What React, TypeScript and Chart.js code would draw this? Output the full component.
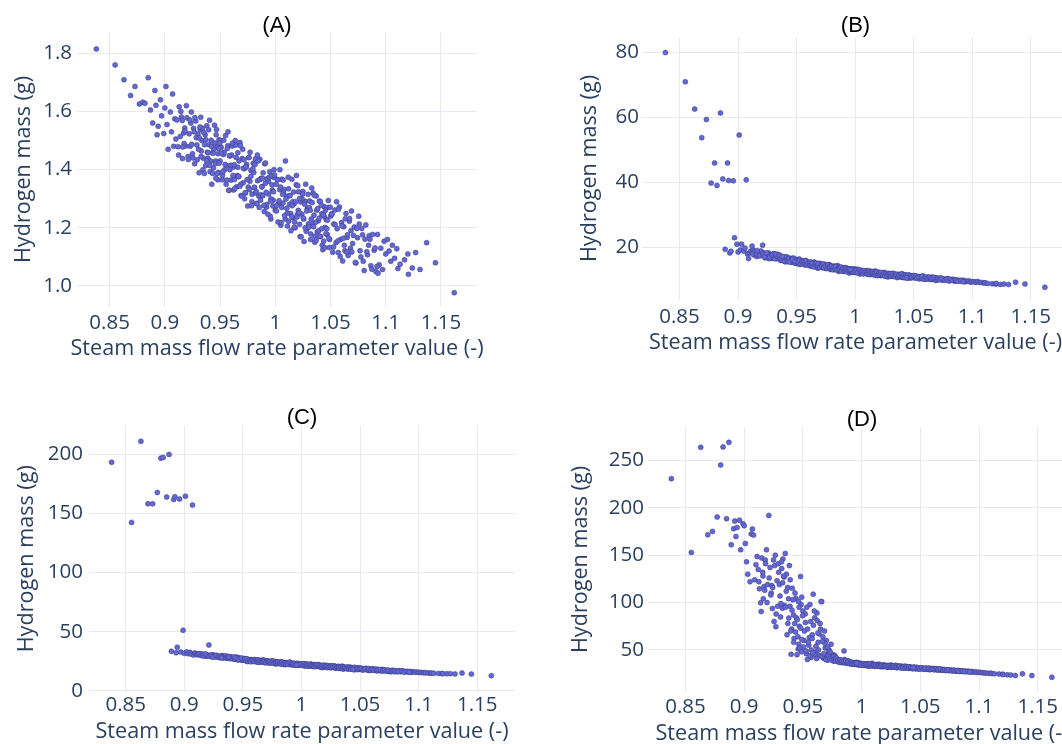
import React, { useEffect, useRef } from "react";
import { Chart, registerables } from "chart.js";

Chart.register(...registerables);

// Steam mass flow rate parameter value (-) for every sample (shared by all panels)
const steamFlow = [
  0.838, 0.855, 0.863, 0.869, 0.873, 0.877, 0.880, 0.882, 0.885, 0.887,
  0.889, 0.891, 0.892, 0.893, 0.894, 0.896, 0.897, 0.899, 0.900, 0.901,
  0.902, 0.903, 0.905, 0.906, 0.907, 0.908, 0.909, 0.910,
  0.911, 0.912, 0.913, 0.914, 0.915, 0.916, 0.917, 0.918, 0.919, 0.920,
  0.921, 0.922, 0.923, 0.924, 0.925, 0.926, 0.927, 0.928, 0.929, 0.930,
  0.931, 0.932, 0.933, 0.934, 0.935, 0.936, 0.937, 0.938, 0.939, 0.940,
  0.941, 0.942, 0.943, 0.944, 0.945, 0.946, 0.947, 0.948, 0.949, 0.950,
  0.9125, 0.9145, 0.9175, 0.9195, 0.9235, 0.9255, 0.9285, 0.9305, 0.9325, 0.9345,
  0.9365, 0.9385, 0.9405, 0.9425, 0.9445, 0.9465, 0.9485, 0.9415, 0.9335, 0.9265,
  0.951, 0.952, 0.953, 0.954, 0.955, 0.956, 0.957, 0.958, 0.959, 0.960,
  0.961, 0.962, 0.963, 0.964, 0.965, 0.966, 0.967, 0.968, 0.969, 0.970,
  0.971, 0.972, 0.973, 0.974, 0.975, 0.976, 0.977, 0.978, 0.979, 0.980,
  0.981, 0.982, 0.983, 0.984, 0.985, 0.986, 0.987, 0.988, 0.989, 0.990,
  0.991, 0.992, 0.993, 0.994, 0.995, 0.996, 0.997, 0.998, 0.999, 1.000,
  0.9505, 0.9522, 0.9538, 0.9555, 0.9572, 0.9588, 0.9605, 0.9622, 0.9638, 0.9655,
  0.9672, 0.9688, 0.9705, 0.9722, 0.9738, 0.9755, 0.9772, 0.9788, 0.9805, 0.9822,
  0.9838, 0.9855, 0.9872, 0.9888, 0.9905, 0.9922, 0.9938, 0.9955, 0.9972, 0.9988,
  1.001, 1.002, 1.003, 1.004, 1.005, 1.006, 1.007, 1.008, 1.009, 1.010,
  1.011, 1.012, 1.013, 1.014, 1.015, 1.016, 1.017, 1.018, 1.019, 1.020,
  1.021, 1.022, 1.023, 1.024, 1.025, 1.026, 1.027, 1.028, 1.029, 1.030,
  1.031, 1.032, 1.033, 1.034, 1.035, 1.036, 1.037, 1.038, 1.039, 1.040,
  1.041, 1.042, 1.043, 1.044, 1.045, 1.046, 1.047, 1.048, 1.049, 1.050,
  1.0008, 1.0025, 1.0042, 1.0058, 1.0075, 1.0092, 1.0108, 1.0125, 1.0142, 1.0158,
  1.0175, 1.0192, 1.0208, 1.0225, 1.0242, 1.0258, 1.0275, 1.0292, 1.0308, 1.0325,
  1.0342, 1.0358, 1.0375, 1.0392, 1.0408, 1.0425, 1.0442, 1.0458, 1.0475, 1.0492,
  1.051, 1.052, 1.053, 1.054, 1.055, 1.056, 1.057, 1.058, 1.059, 1.060,
  1.061, 1.062, 1.063, 1.064, 1.065, 1.066, 1.067, 1.068, 1.069, 1.070,
  1.0715, 1.073, 1.0745, 1.076, 1.0775, 1.079, 1.0805, 1.082, 1.0835, 1.085,
  1.0865, 1.088, 1.0895, 1.091, 1.0925, 1.094, 1.0955, 1.097, 1.0985, 1.100,
  1.0555, 1.0625, 1.0685, 1.0755, 1.0845,
  1.093, 1.1015, 1.103, 1.1045, 1.106, 1.108, 1.110, 1.111, 1.113, 1.117,
  1.120, 1.1205, 1.124, 1.127, 1.131, 1.137, 1.145, 1.162,
  0.9158, 0.9163, 0.9182, 0.9213, 0.9227, 0.9243, 0.9272, 0.9294, 0.9313, 0.9328,
  0.9352, 0.9358, 0.9372, 0.9392, 0.9397, 0.9408, 0.9422, 0.9433, 0.9452, 0.9458,
  0.9468, 0.9474, 0.9482, 0.9491, 0.9497, 0.9378, 0.9318, 0.9438, 0.9462, 0.9488,
  0.9513, 0.9527, 0.9533, 0.9546, 0.9561, 0.9566, 0.9579, 0.9584, 0.9597, 0.9611,
  0.9617, 0.9628, 0.9633, 0.9646, 0.9661, 0.9666, 0.9679, 0.9684, 0.9697, 0.9711,
  0.9717, 0.9728, 0.9733, 0.9746, 0.9761, 0.9766, 0.9779, 0.9784, 0.9797, 0.9811,
  0.9817, 0.9828, 0.9833, 0.9846, 0.9861, 0.9866, 0.9879, 0.9884, 0.9897, 0.9911,
  0.9917, 0.9928, 0.9933, 0.9946, 0.9961, 0.9966, 0.9979, 0.9984, 0.9993, 0.9957,
  1.0013, 1.0021, 1.0034, 1.0047, 1.0053, 1.0066, 1.0071, 1.0084, 1.0097, 1.0104,
  1.0117, 1.0121, 1.0134, 1.0147, 1.0153, 1.0166, 1.0171, 1.0184, 1.0197, 1.0204,
  1.0217, 1.0221, 1.0234, 1.0247, 1.0253, 1.0266, 1.0271, 1.0284, 1.0297, 1.0304,
  1.0317, 1.0321, 1.0334, 1.0347, 1.0353, 1.0366, 1.0371, 1.0384, 1.0397, 1.0404,
  1.0417, 1.0421, 1.0434, 1.0447, 1.0453, 1.0466, 1.0471, 1.0484, 1.0497, 1.0438,
  1.0513, 1.0527, 1.0541, 1.0566, 1.0572, 1.0588, 1.0603, 1.0617, 1.0634, 1.0648,
  1.0653, 1.0672, 1.0693, 1.0708, 1.0724, 1.0738, 1.0767, 1.0783, 1.0796, 1.0812,
  1.0828, 1.0857, 1.0874, 1.0903, 1.0921,
];

// Hydrogen mass (g), panel (A)
const h2MassA = [
  1.815, 1.760, 1.709, 1.655, 1.686, 1.626, 1.632, 1.628, 1.716, 1.605,
  1.560, 1.672, 1.621, 1.520, 1.549, 1.640, 1.585, 1.524, 1.612, 1.686,
  1.555, 1.470, 1.598, 1.530, 1.660, 1.480, 1.575, 1.505,
  1.571, 1.479, 1.616, 1.514, 1.581, 1.438, 1.526, 1.543, 1.481, 1.578,
  1.445, 1.523, 1.480, 1.598, 1.455, 1.542, 1.420, 1.567, 1.485, 1.522,
  1.389, 1.537, 1.464, 1.542, 1.439, 1.486, 1.414, 1.551, 1.439, 1.486,
  1.393, 1.501, 1.458, 1.406, 1.553, 1.430, 1.478, 1.365, 1.503, 1.430,
  1.45, 1.60, 1.49, 1.62, 1.56, 1.44, 1.51, 1.47, 1.58, 1.40,
  1.52, 1.46, 1.57, 1.35, 1.47, 1.52, 1.39, 1.43, 1.50, 1.53,
  1.477, 1.365, 1.452, 1.400, 1.517, 1.414, 1.482, 1.329, 1.447, 1.364,
  1.481, 1.409, 1.366, 1.484, 1.341, 1.408, 1.376, 1.493, 1.311, 1.438,
  1.355, 1.403, 1.320, 1.418, 1.275, 1.442, 1.360, 1.397, 1.315, 1.422,
  1.339, 1.437, 1.284, 1.362, 1.309, 1.436, 1.314, 1.341, 1.389, 1.256,
  1.353, 1.271, 1.368, 1.316, 1.393, 1.230, 1.348, 1.295, 1.373, 1.260,
  1.50, 1.38, 1.46, 1.35, 1.53, 1.40, 1.45, 1.33, 1.50, 1.38,
  1.43, 1.35, 1.47, 1.30, 1.41, 1.34, 1.46, 1.29, 1.39, 1.32,
  1.45, 1.27, 1.37, 1.31, 1.42, 1.28, 1.36, 1.24, 1.33, 1.40,
  1.258, 1.366, 1.283, 1.331, 1.209, 1.367, 1.285, 1.332, 1.230, 1.308,
  1.206, 1.334, 1.281, 1.249, 1.367, 1.235, 1.283, 1.200, 1.348, 1.246,
  1.324, 1.212, 1.289, 1.247, 1.325, 1.153, 1.291, 1.188, 1.266, 1.214,
  1.292, 1.160, 1.337, 1.215, 1.243, 1.171, 1.309, 1.186, 1.224, 1.292,
  1.170, 1.248, 1.125, 1.273, 1.201, 1.229, 1.177, 1.294, 1.132, 1.240,
  1.35, 1.22, 1.40, 1.27, 1.32, 1.43, 1.25, 1.31, 1.19, 1.29,
  1.22, 1.38, 1.26, 1.17, 1.30, 1.23, 1.35, 1.20, 1.27, 1.23,
  1.32, 1.15, 1.26, 1.19, 1.29, 1.14, 1.24, 1.18, 1.27, 1.16,
  1.248, 1.116, 1.213, 1.261, 1.149, 1.197, 1.115, 1.272, 1.160, 1.218,
  1.086, 1.204, 1.121, 1.249, 1.167, 1.105, 1.223, 1.130, 1.258, 1.146,
  1.203, 1.079, 1.166, 1.213, 1.100, 1.176, 1.053, 1.210, 1.107, 1.173,
  1.070, 1.177, 1.123, 1.050, 1.177, 1.073, 1.130, 1.057, 1.154, 1.110,
  1.29, 1.14, 1.19, 1.24, 1.14,
  1.044, 1.160, 1.120, 1.085, 1.140, 1.095, 1.128, 1.060, 1.075, 1.090,
  1.110, 1.040, 1.062, 1.115, 1.057, 1.149, 1.080, 0.977,
  1.569, 1.478, 1.533, 1.435, 1.571, 1.487, 1.579, 1.434, 1.509, 1.445,
  1.528, 1.387, 1.503, 1.458, 1.537, 1.414, 1.480, 1.387, 1.492, 1.421,
  1.538, 1.387, 1.455, 1.422, 1.491, 1.431, 1.547, 1.456, 1.370, 1.473,
  1.457, 1.393, 1.501, 1.418, 1.364, 1.473, 1.329, 1.448, 1.415, 1.491,
  1.380, 1.417, 1.335, 1.442, 1.458, 1.377, 1.343, 1.482, 1.309, 1.405,
  1.434, 1.321, 1.409, 1.366, 1.442, 1.331, 1.377, 1.276, 1.403, 1.339,
  1.418, 1.325, 1.283, 1.430, 1.366, 1.295, 1.341, 1.370, 1.277, 1.423,
  1.322, 1.369, 1.247, 1.374, 1.300, 1.379, 1.275, 1.324, 1.382, 1.291,
  1.277, 1.365, 1.293, 1.340, 1.218, 1.315, 1.364, 1.242, 1.299, 1.267,
  1.374, 1.223, 1.311, 1.238, 1.276, 1.323, 1.202, 1.290, 1.237, 1.345,
  1.252, 1.301, 1.169, 1.316, 1.234, 1.281, 1.200, 1.258, 1.315, 1.203,
  1.260, 1.179, 1.287, 1.204, 1.312, 1.219, 1.158, 1.266, 1.233, 1.171,
  1.278, 1.197, 1.245, 1.132, 1.260, 1.197, 1.226, 1.164, 1.271, 1.154,
  1.247, 1.134, 1.211, 1.155, 1.264, 1.101, 1.207, 1.164, 1.231, 1.117,
  1.176, 1.232, 1.117, 1.174, 1.081, 1.198, 1.121, 1.198, 1.085, 1.161,
  1.118, 1.161, 1.058, 1.131, 1.067,
];

// Hydrogen mass (g), panel (B)
const h2MassB = [
  80.0, 71.0, 62.6, 53.8, 59.4, 39.8, 46.0, 39.1, 61.4, 41.1,
  19.4, 46.0, 40.6, 18.3, 18.8, 40.5, 23.0, 21.0, 18.6, 54.6,
  19.2, 21.0, 18.9, 19.8, 40.8, 18.0, 16.6, 18.4,
  18.9, 20.4, 19.1, 17.6, 18.4, 17.2, 18.4, 17.9, 17.4, 18.5,
  20.7, 18.3, 16.8, 17.9, 17.1, 18.3, 17.3, 17.8, 16.6, 17.4,
  16.8, 17.7, 16.5, 17.0, 17.7, 16.2, 17.0, 16.4, 17.0, 15.6,
  17.1, 15.9, 16.5, 16.1, 16.6, 15.4, 16.2, 15.9, 15.5, 16.3,
  18.0, 18.8, 17.6, 18.9, 16.9, 18.0, 17.0, 18.1, 16.9, 17.4,
  16.0, 16.8, 16.2, 16.9, 15.9, 16.6, 15.2, 15.6, 17.9, 16.5,
  15.3, 16.2, 14.7, 15.6, 15.9, 15.2, 14.6, 16.0, 14.7, 15.3,
  14.9, 14.2, 15.2, 14.6, 15.5, 14.1, 14.7, 13.6, 15.1, 14.1,
  15.0, 13.9, 14.4, 14.7, 13.5, 14.3, 13.9, 14.7, 13.2, 14.2,
  13.5, 14.3, 13.1, 13.7, 14.4, 12.6, 13.7, 13.0, 13.8, 12.6,
  13.4, 13.8, 12.7, 13.0, 12.1, 13.3, 13.0, 12.3, 13.4, 12.5,
  15.0, 16.4, 15.1, 15.8, 14.9, 15.5, 14.5, 15.4, 14.4, 15.2,
  14.0, 14.9, 14.6, 13.7, 14.8, 13.9, 14.5, 13.4, 14.0, 13.3,
  14.1, 13.2, 13.9, 12.9, 13.6, 12.8, 13.5, 12.5, 13.2, 12.4,
  13.3, 12.4, 13.0, 11.8, 12.6, 12.8, 11.9, 12.6, 12.1, 12.9,
  11.9, 12.4, 11.6, 12.6, 12.1, 11.8, 12.7, 11.9, 11.3, 12.3,
  12.1, 11.3, 12.1, 11.5, 12.3, 11.5, 11.7, 10.9, 12.0, 11.2,
  11.7, 11.3, 12.0, 11.0, 11.6, 10.7, 11.7, 11.3, 11.0, 11.9,
  10.7, 11.4, 10.9, 11.2, 10.5, 11.5, 10.7, 11.2, 10.8, 11.3,
  12.2, 13.1, 12.3, 12.9, 12.0, 12.6, 11.8, 12.7, 12.2, 11.6,
  12.4, 11.7, 12.2, 11.5, 12.0, 11.3, 11.9, 11.2, 11.8, 11.1,
  11.5, 11.0, 11.6, 10.9, 11.3, 11.6, 10.8, 11.1, 10.6, 11.0,
  10.6, 11.2, 10.7, 11.0, 10.3, 11.0, 10.5, 11.2, 10.2, 10.7,
  10.3, 10.9, 10.4, 10.7, 10.1, 10.9, 10.2, 10.5, 9.8, 10.6,
  10.1, 10.6, 9.9, 10.3, 10.0, 10.4, 9.7, 10.0, 10.2, 9.6,
  10.0, 9.6, 9.9, 9.6, 9.9, 9.4, 9.6, 9.7, 9.3, 9.5,
  10.9, 10.3, 10.6, 10.0, 9.8,
  9.6, 9.4, 9.3, 9.5, 9.2, 9.2, 9.0, 9.1, 8.9, 8.8,
  8.7, 8.9, 8.6, 8.7, 8.6, 9.3, 8.7, 7.7,
  18.0, 19.0, 17.5, 18.0, 17.1, 18.3, 17.1, 17.7, 16.5, 17.4,
  16.6, 17.5, 16.2, 16.9, 15.7, 17.0, 16.0, 16.6, 15.5, 16.5,
  15.8, 16.7, 15.3, 16.0, 15.3, 17.2, 18.0, 15.5, 16.3, 15.7,
  15.4, 16.0, 14.9, 15.5, 15.7, 14.9, 15.8, 14.6, 15.2, 14.8,
  15.5, 14.4, 15.1, 14.0, 14.7, 15.1, 14.3, 14.9, 13.8, 14.6,
  14.2, 14.9, 13.8, 14.3, 13.5, 14.6, 13.6, 14.0, 14.2, 13.1,
  13.9, 13.4, 14.1, 13.1, 13.7, 13.3, 13.9, 12.8, 13.4, 12.9,
  13.5, 12.5, 13.1, 13.3, 12.7, 13.4, 12.4, 13.0, 12.6, 13.2,
  13.0, 12.2, 13.2, 12.3, 12.6, 11.9, 12.8, 12.3, 12.5, 11.7,
  12.7, 11.9, 12.3, 12.5, 11.9, 11.5, 12.3, 12.6, 11.5, 12.1,
  11.7, 12.3, 11.5, 11.9, 11.1, 12.0, 11.4, 11.7, 11.8, 11.1,
  12.0, 11.3, 11.1, 11.6, 11.7, 10.8, 11.4, 11.1, 11.8, 10.9,
  11.4, 10.7, 11.4, 11.0, 11.5, 10.8, 11.1, 10.7, 11.3, 10.6,
  11.2, 10.5, 10.9, 10.5, 11.1, 10.2, 10.8, 10.4, 10.8, 10.2,
  10.5, 10.7, 10.0, 10.5, 10.0, 10.5, 9.9, 10.3, 9.7, 10.2,
  9.8, 10.0, 9.6, 9.8, 9.4,
];

// Hydrogen mass (g), panel (C)
const h2MassC = [
  193.4, 142.5, 211.0, 158.2, 158.2, 167.8, 196.8, 197.4, 163.9, 200.0,
  33.5, 161.9, 164.1, 32.2, 36.9, 162.2, 32.8, 51.3, 31.8, 164.7,
  33.0, 31.5, 32.6, 31.0, 157.1, 30.4, 32.0, 31.3,
  30.5, 31.5, 30.5, 31.5, 29.9, 30.7, 30.3, 29.4, 30.6, 29.9,
  38.9, 30.2, 29.0, 29.8, 30.3, 29.1, 29.9, 28.7, 29.2, 28.1,
  29.2, 29.5, 28.3, 29.1, 28.3, 27.8, 29.1, 28.1, 28.5, 27.7,
  28.1, 27.0, 28.2, 27.4, 26.8, 28.0, 26.8, 27.1, 26.1, 26.6,
  31.2, 30.1, 30.9, 29.5, 30.6, 29.0, 29.6, 28.6, 29.8, 28.9,
  27.6, 28.8, 28.3, 27.3, 28.6, 27.2, 26.4, 27.6, 28.0, 28.8,
  27.5, 25.9, 26.9, 24.8, 26.1, 26.5, 25.0, 26.0, 25.3, 26.5,
  24.7, 25.7, 24.2, 26.0, 25.1, 24.4, 26.2, 24.8, 23.8, 25.4,
  24.9, 23.7, 25.0, 23.9, 25.4, 23.9, 24.2, 22.7, 24.7, 23.2,
  24.1, 23.5, 24.6, 22.8, 23.7, 22.2, 23.9, 23.2, 22.7, 24.3,
  22.1, 23.4, 22.5, 22.8, 21.6, 23.3, 21.8, 22.8, 22.2, 22.9,
  27.0, 25.6, 26.6, 25.2, 26.4, 24.9, 25.9, 25.0, 25.8, 24.5,
  25.5, 24.3, 25.1, 24.0, 24.8, 23.6, 24.6, 23.4, 24.2, 23.1,
  23.9, 22.9, 23.6, 22.5, 23.5, 22.3, 23.1, 22.0, 22.6, 21.9,
  21.7, 22.9, 21.0, 22.2, 22.5, 21.7, 20.9, 22.8, 21.1, 21.9,
  21.4, 20.5, 21.8, 20.9, 22.2, 20.4, 21.1, 19.7, 21.7, 20.4,
  21.6, 20.1, 20.9, 21.2, 19.6, 20.7, 20.1, 21.2, 19.2, 20.5,
  19.6, 20.7, 19.1, 19.8, 20.9, 18.6, 19.9, 19.0, 20.1, 18.5,
  19.5, 20.1, 18.6, 19.0, 17.8, 19.4, 18.9, 18.0, 19.5, 18.3,
  22.5, 21.5, 22.6, 21.3, 22.0, 21.2, 22.3, 20.9, 21.7, 20.6,
  21.3, 20.1, 21.1, 20.5, 20.0, 21.0, 20.3, 19.5, 20.4, 19.7,
  20.6, 19.3, 19.7, 18.9, 19.8, 18.8, 19.4, 18.4, 19.1, 18.5,
  19.1, 17.7, 18.7, 18.2, 19.1, 17.7, 18.3, 17.2, 18.6, 17.7,
  18.8, 17.5, 18.0, 17.0, 18.3, 17.5, 17.9, 16.8, 18.2, 17.0,
  17.7, 16.6, 17.2, 16.1, 17.5, 16.6, 17.0, 16.1, 17.0, 16.3,
  17.0, 16.0, 16.5, 15.9, 16.5, 15.8, 16.2, 15.7, 16.0, 15.6,
  18.5, 17.9, 17.6, 16.9, 16.6,
  15.9, 15.6, 15.5, 15.3, 15.4, 15.2, 15.0, 15.1, 14.9, 14.8,
  14.7, 14.6, 14.5, 14.6, 14.3, 15.1, 14.2, 12.9,
  31.0, 29.6, 31.2, 29.4, 30.0, 28.5, 30.1, 28.9, 29.4, 28.0,
  29.7, 28.0, 28.5, 27.2, 28.7, 27.6, 28.6, 26.9, 27.6, 26.1,
  27.6, 26.7, 27.6, 26.1, 26.9, 28.8, 27.9, 27.9, 26.7, 27.7,
  27.0, 25.8, 27.2, 25.3, 26.0, 24.7, 26.2, 25.9, 24.9, 26.3,
  25.1, 26.1, 24.2, 25.5, 25.1, 24.5, 26.0, 24.7, 23.9, 25.3,
  24.8, 23.5, 24.9, 23.9, 25.2, 23.5, 24.1, 23.7, 24.6, 23.2,
  24.1, 22.5, 24.4, 23.3, 23.6, 22.6, 23.7, 22.4, 24.2, 22.5,
  23.0, 21.9, 23.4, 22.4, 22.9, 22.0, 23.1, 22.2, 22.5, 21.9,
  21.6, 22.9, 21.8, 22.5, 20.9, 22.0, 22.4, 21.3, 21.6, 20.8,
  21.9, 21.1, 22.2, 20.6, 21.5, 20.2, 21.1, 21.6, 20.3, 21.0,
  19.6, 21.2, 20.4, 20.8, 19.7, 21.1, 20.0, 20.6, 19.4, 20.1,
  20.6, 19.5, 20.0, 18.7, 20.2, 19.4, 19.9, 18.9, 20.2, 19.0,
  19.3, 18.4, 19.5, 18.6, 19.9, 18.2, 19.0, 18.6, 19.0, 18.2,
  19.0, 17.8, 18.7, 17.8, 18.9, 17.6, 18.2, 17.6, 18.4, 17.0,
  17.8, 18.0, 17.0, 17.6, 16.7, 17.7, 16.6, 17.2, 16.2, 16.9,
  16.4, 16.8, 16.0, 16.4, 15.8,
];

// Hydrogen mass (g), panel (D)
const h2MassD = [
  230.8, 152.9, 263.8, 171.6, 175.1, 190.3, 245.2, 264.3, 188.5, 269.1,
  161.0, 177.9, 186.0, 169.8, 179.3, 187.0, 155.7, 183.2, 181.0, 162.4,
  143.0, 130.0, 122.0, 172.3, 177.6, 171.2, 124.0, 140.0,
  148.6, 135.0, 114.5, 99.7, 147.0, 128.0, 117.0, 145.0, 155.7, 119.0,
  192.0, 137.0, 110.0, 93.7, 145.0, 139.0, 74.6, 123.0, 141.0, 119.0,
  84.8, 136.0, 146.0, 127.0, 151.8, 130.0, 116.0, 83.6, 96.0, 45.4,
  115.0, 87.0, 78.0, 104.6, 45.0, 51.0, 75.0, 127.5, 105.7, 91.0,
  122.0, 90.5, 113.0, 100.0, 118.0, 80.0, 96.0, 107.0, 94.0, 97.0,
  66.0, 139.0, 72.0, 62.0, 84.0, 56.0, 98.0, 103.0, 128.0, 150.0,
  60.0, 88.0, 46.0, 72.0, 55.0, 98.0, 42.0, 66.0, 76.0, 84.0,
  48.0, 89.0, 58.0, 44.0, 72.0, 101.0, 64.0, 41.0, 52.0, 60.0,
  39.0, 47.0, 43.0, 56.0, 40.0, 45.0, 38.0, 42.0, 39.0, 37.5,
  39.0, 37.0, 38.5, 36.5, 49.0, 37.0, 36.0, 38.0, 36.8, 35.5,
  37.0, 35.0, 36.2, 34.8, 35.8, 34.5, 36.5, 34.2, 35.3, 34.6,
  53.0, 79.0, 40.0, 63.0, 50.0, 108.9, 45.0, 81.0, 67.0, 101.0,
  42.0, 57.0, 44.0, 50.0, 41.0, 38.5, 44.0, 40.0, 38.0, 39.5,
  37.5, 40.0, 37.0, 38.5, 36.0, 36.8, 35.5, 37.0, 35.0, 36.0,
  35.2, 33.6, 34.9, 33.9, 35.6, 33.2, 34.7, 33.5, 35.9, 33.8,
  34.2, 32.9, 34.6, 33.1, 35.0, 32.6, 33.9, 32.4, 34.3, 32.8,
  33.5, 32.1, 33.7, 32.5, 34.0, 31.9, 33.2, 32.2, 33.8, 31.6,
  32.9, 31.8, 33.1, 31.4, 32.6, 31.2, 32.7, 31.0, 32.3, 31.5,
  30.6, 32.0, 31.1, 30.4, 31.7, 30.2, 31.3, 30.0, 31.0, 30.5,
  33.9, 35.3, 34.1, 33.0, 35.0, 34.0, 32.7, 34.4, 33.0, 33.7,
  32.3, 33.4, 32.6, 33.3, 32.0, 33.6, 32.4, 31.5, 32.9, 31.9,
  32.4, 31.1, 32.5, 31.0, 31.9, 30.8, 31.6, 30.5, 31.2, 30.1,
  30.9, 29.8, 30.6, 29.5, 30.8, 29.7, 30.3, 29.2, 30.5, 29.6,
  30.4, 29.0, 30.1, 29.3, 29.9, 28.8, 29.7, 28.6, 29.4, 28.9,
  28.3, 29.1, 28.1, 28.8, 27.9, 28.5, 27.6, 28.3, 27.4, 28.1,
  27.2, 27.8, 27.0, 27.5, 26.8, 27.3, 26.5, 26.9, 26.2, 26.5,
  30.1, 29.5, 29.2, 28.4, 27.7,
  26.9, 26.1, 26.0, 25.7, 25.6, 25.3, 25.4, 25.0, 24.8, 24.6,
  24.3, 24.0, 23.7, 23.5, 23.0, 24.8, 22.9, 21.2,
  132, 104, 141, 126, 108, 116, 88, 132, 99, 121,
  95, 112, 78, 124, 70, 92, 58, 110, 82, 64,
  95, 52, 73, 61, 86, 104, 143, 69, 101, 48,
  70, 49, 95, 58, 44, 80, 62, 47, 91, 54,
  41, 68, 50, 78, 43, 59, 46, 70, 40, 53,
  44, 41, 48, 39.5, 43, 40, 38.5, 41.5, 39, 37,
  39.5, 36.8, 38.2, 37.6, 36.5, 38.4, 36.2, 37.4, 35.6, 36.9,
  35.2, 36.4, 35.0, 35.9, 34.6, 35.7, 34.3, 35.4, 34.0, 36.0,
  35.2, 33.8, 34.5, 33.2, 34.6, 33.7, 34.9, 33.0, 33.7, 34.0,
  32.9, 34.3, 33.0, 33.7, 32.4, 33.3, 33.7, 32.5, 32.7, 33.4,
  31.7, 32.9, 33.3, 31.8, 32.6, 31.9, 33.1, 31.9, 32.5, 31.3,
  32.0, 32.5, 31.0, 32.1, 31.3, 32.5, 31.0, 31.6, 30.7, 32.0,
  31.1, 31.5, 30.2, 31.5, 30.7, 31.6, 30.4, 30.8, 30.0, 31.3,
  31.1, 29.9, 30.6, 29.5, 30.8, 29.5, 30.3, 29.4, 30.1, 28.7,
  29.6, 29.8, 28.7, 29.4, 28.3, 29.0, 28.0, 28.7, 27.6, 28.2,
  27.5, 27.9, 27.1, 27.4, 26.8,
];

const xTicks = [0.85, 0.9, 0.95, 1, 1.05, 1.1, 1.15];
const yTicksA = [1.0, 1.2, 1.4, 1.6, 1.8];
const yTicksB = [20, 40, 60, 80];
const yTicksC = [0, 50, 100, 150, 200];
const yTicksD = [50, 100, 150, 200, 250];
const panelTitles = ["(A)", "(B)", "(C)", "(D)"];
const xAxisTitle = "Steam mass flow rate parameter value (-)";
const yAxisTitle = "Hydrogen mass (g)";

const axisText = "#2a3f5f";
const gridColor = "#e6e9ef";
const markerFill = "rgb(99,104,214)";
const markerEdge = "rgba(58,58,125,0.85)";
const tickFont = { family: "'Open Sans', sans-serif", size: 20.5 };
const titleFontCss = "21.6px 'Open Sans', sans-serif";
const panelTitleCss = "22px 'Liberation Sans', Arial, sans-serif";

type PanelSpec = {
  title: string;
  ys: number[];
  yTicks: number[];
  yFmt: (v: number) => string;
  left: number; top: number; width: number; height: number;
  plotL: number; plotT: number; plotR: number; plotB: number;
  xMin: number; xMax: number; yMin: number; yMax: number;
  xTickPad: number; yTickPad: number;
  xTitleY: number; yTitleX: number; titleY: number;
};

const panels: PanelSpec[] = [
  {
    title: panelTitles[0], ys: h2MassA, yTicks: yTicksA, yFmt: (v) => v.toFixed(1),
    left: 0, top: 0, width: 540, height: 372,
    plotL: 77, plotT: 32, plotR: 477, plotB: 307,
    xMin: 0.8205, xMax: 1.1826, yMin: 0.9278, yMax: 1.8732,
    xTickPad: 4, yTickPad: 5, xTitleY: 349, yTitleX: 24, titleY: 25.8,
  },
  {
    title: panelTitles[1], ys: h2MassB, yTicks: yTicksB, yFmt: (v) => String(v),
    left: 540, top: 0, width: 560, height: 372,
    plotL: 102, plotT: 37, plotR: 529, plotB: 300,
    xMin: 0.818, xMax: 1.1826, yMin: 3.8, yMax: 84.8,
    xTickPad: 4.4, yTickPad: 3, xTitleY: 343, yTitleX: 50, titleY: 25.5,
  },
  {
    title: panelTitles[2], ys: h2MassC, yTicks: yTicksC, yFmt: (v) => String(v),
    left: 0, top: 372, width: 540, height: 390,
    plotL: 89, plotT: 54, plotR: 515, plotB: 319.5,
    xMin: 0.8187, xMax: 1.1822, yMin: -0.5, yMax: 224,
    xTickPad: 1.5, yTickPad: 6, xTitleY: 359.7, yTitleX: 27, titleY: 46,
  },
  {
    title: panelTitles[3], ys: h2MassD, yTicks: yTicksD, yFmt: (v) => String(v),
    left: 540, top: 372, width: 560, height: 390,
    plotL: 108, plotT: 55, plotR: 536, plotB: 320,
    xMin: 0.8181, xMax: 1.1826, yMin: 5.6, yMax: 285.3,
    xTickPad: 3.2, yTickPad: 4, xTitleY: 361.7, yTitleX: 40.7, titleY: 47.7,
  },
];

function Panel({ p }: { p: PanelSpec }) {
  const ref = useRef<HTMLCanvasElement | null>(null);

  useEffect(() => {
    const canvas = ref.current;
    if (!canvas) return;

    const textPlugin = {
      id: "panelText",
      afterDraw(chart: any) {
        const { ctx, chartArea } = chart;
        const cx = (chartArea.left + chartArea.right) / 2;
        const cy = (chartArea.top + chartArea.bottom) / 2;
        ctx.save();
        ctx.textAlign = "center";
        ctx.textBaseline = "middle";
        ctx.fillStyle = "#000";
        ctx.font = panelTitleCss;
        ctx.fillText(p.title, cx, p.titleY);
        ctx.fillStyle = axisText;
        ctx.font = titleFontCss;
        ctx.fillText(xAxisTitle, cx, p.xTitleY);
        ctx.translate(p.yTitleX, cy);
        ctx.rotate(-Math.PI / 2);
        ctx.fillText(yAxisTitle, 0, 0);
        ctx.restore();
      },
    };

    const n = Math.min(steamFlow.length, p.ys.length);
    const points = steamFlow.slice(0, n).map((x, i) => ({ x, y: p.ys[i] }));

    const chart = new Chart(canvas, {
      type: "scatter",
      data: {
        datasets: [
          {
            data: points,
            backgroundColor: markerFill,
            borderColor: markerEdge,
            borderWidth: 0.6,
            pointRadius: 2.5,
            pointHoverRadius: 2.5,
          },
        ],
      },
      options: {
        responsive: false,
        animation: false,
        devicePixelRatio: 1,
        events: [],
        layout: {
          padding: { top: p.plotT, right: p.width - p.plotR, left: 0, bottom: 0 },
        },
        plugins: {
          legend: { display: false },
          tooltip: { enabled: false },
        },
        scales: {
          x: {
            type: "linear",
            position: "bottom",
            min: p.xMin,
            max: p.xMax,
            afterBuildTicks: (s: any) => {
              s.ticks = xTicks.map((v) => ({ value: v }));
            },
            afterFit: (s: any) => {
              s.height = p.height - p.plotB;
            },
            ticks: {
              autoSkip: false,
              maxRotation: 0,
              minRotation: 0,
              padding: p.xTickPad,
              color: axisText,
              font: tickFont,
              callback: (v: any) => String(v),
            },
            grid: { color: gridColor, drawTicks: false, lineWidth: 1 },
            border: { display: false },
            title: { display: false },
          },
          y: {
            type: "linear",
            position: "left",
            min: p.yMin,
            max: p.yMax,
            afterBuildTicks: (s: any) => {
              s.ticks = p.yTicks.map((v) => ({ value: v }));
            },
            afterFit: (s: any) => {
              s.width = p.plotL;
            },
            ticks: {
              autoSkip: false,
              padding: p.yTickPad,
              color: axisText,
              font: tickFont,
              callback: (v: any) => p.yFmt(Number(v)),
            },
            grid: { color: gridColor, drawTicks: false, lineWidth: 1 },
            border: { display: false },
            title: { display: false },
          },
        },
      },
      plugins: [textPlugin],
    } as any);

    return () => chart.destroy();
  }, [p]);

  return (
    <canvas
      ref={ref}
      width={p.width}
      height={p.height}
      style={{ position: "absolute", left: p.left, top: p.top, width: p.width, height: p.height }}
    />
  );
}

export default function App() {
  return (
    <div
      style={{
        position: "absolute",
        left: 0,
        top: 0,
        width: 1062,
        height: 744,
        overflow: "hidden",
        background: "#ffffff",
      }}
    >
      {panels.map((p) => (
        <Panel key={p.title} p={p} />
      ))}
    </div>
  );
}
